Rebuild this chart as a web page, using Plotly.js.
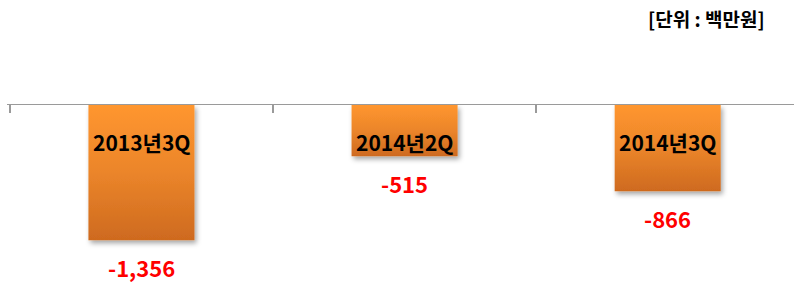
<!DOCTYPE html>
<html>
<head>
<meta charset="utf-8">
<script src="https://cdn.plot.ly/plotly-3.0.1.min.js"></script>
<style>html,body{margin:0;padding:0;background:#fff;}#chart{width:794px;height:282px;}</style>
</head>
<body>
<div id="chart"></div>
<script>
const categories = ["2013년3Q", "2014년2Q", "2014년3Q"];
const values = [-1356, -515, -866];
const valueLabels = ["-1,356", "-515", "-866"];
const unitLabel = "[단위 : 백만원]";

const FONT = '"Noto Sans CJK KR", "Noto Sans", sans-serif';

const annotations = [];
categories.forEach((c, i) => {
  annotations.push({
    x: c, y: 0, xref: 'x', yref: 'y', text: '<b>' + c + '</b>', showarrow: false,
    yanchor: 'middle', yshift: -37, font: {family: FONT, size: 21, color: '#000'}
  });
  annotations.push({
    x: c, y: values[i], xref: 'x', yref: 'y', text: '<b>' + valueLabels[i] + '</b>', showarrow: false,
    yanchor: 'middle', yshift: -27, font: {family: FONT, size: 22, color: '#FF0000'}
  });
});
annotations.push({
  x: 0.9655, y: 1.49, xref: 'paper', yref: 'paper', xanchor: 'right', yanchor: 'middle',
  text: '<b>' + unitLabel + '</b>', showarrow: false, font: {family: FONT, size: 19, color: '#000'}
});

const data = [{
  type: 'bar', x: categories, y: values,
  marker: {color: '#E8822A', line: {width: 0}},
  hoverinfo: 'none'
}];

const layout = {
  width: 794, height: 282,
  margin: {l: 7, r: 0, t: 105, b: 0},
  paper_bgcolor: '#fff', plot_bgcolor: '#fff',
  showlegend: false,
  bargap: 0.597,
  xaxis: {
    type: 'category', side: 'top', range: [-0.511, 2.48],
    showline: true, linecolor: '#9a9a9a', linewidth: 1.5,
    ticks: 'inside', tickson: 'boundaries', ticklen: 8, tickcolor: '#9a9a9a', tickwidth: 1.5,
    showticklabels: false, showgrid: false, zeroline: false, fixedrange: true
  },
  yaxis: {
    range: [-1775, 0], visible: false, showgrid: false, zeroline: false, fixedrange: true
  },
  annotations: annotations
};

Plotly.newPlot('chart', data, layout, {staticPlot: true, displayModeBar: false}).then(gd => {
  const svg = gd.querySelector('.main-svg');
  const ns = 'http://www.w3.org/2000/svg';
  const defs = document.createElementNS(ns, 'defs');
  defs.innerHTML =
    '<linearGradient id="barGrad" x1="0" y1="0" x2="0" y2="1">' +
    '<stop offset="0" stop-color="#FF962F"/><stop offset="0.5" stop-color="#EB852A"/><stop offset="1" stop-color="#CE6A1F"/>' +
    '</linearGradient>' +
    '<filter id="barShadow" x="-20%" y="-20%" width="140%" height="150%">' +
    '<feDropShadow dx="2" dy="3" stdDeviation="2.5" flood-color="#000" flood-opacity="0.35"/>' +
    '</filter>';
  svg.insertBefore(defs, svg.firstChild);
  gd.querySelectorAll('.barlayer .point path').forEach(p => {
    p.style.fill = 'url(#barGrad)';
    p.setAttribute('filter', 'url(#barShadow)');
  });
});
</script>
</body>
</html>
